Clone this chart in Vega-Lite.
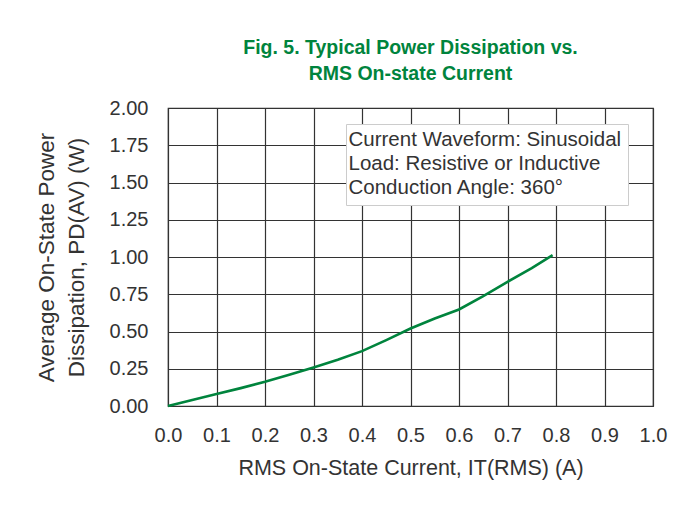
{
  "$schema": "https://vega.github.io/schema/vega-lite/v6.json",
  "width": 485,
  "height": 298,
  "autosize": {"type": "none"},
  "padding": {"left": 168, "top": 108, "right": 38, "bottom": 106},
  "background": "white",
  "title": {
    "text": ["Fig. 5. Typical Power Dissipation vs.", "RMS On-state Current"],
    "font": "Liberation Sans",
    "fontSize": 19.5,
    "fontWeight": "bold",
    "color": "#00843D",
    "anchor": "middle",
    "lineHeight": 26.6,
    "offset": 13
  },
  "config": {
    "view": {"stroke": "#333333", "strokeWidth": 1.2},
    "axis": {
      "labelFont": "Liberation Sans",
      "titleFont": "Liberation Sans",
      "labelColor": "#333333",
      "titleColor": "#333333",
      "labelFontSize": 20,
      "titleFontSize": 22.5,
      "titleFontWeight": "normal",
      "gridColor": "#333333",
      "gridOpacity": 1,
      "gridWidth": 1.2,
      "ticks": false,
      "domain": false,
      "labelFlush": false
    },
    "legend": {
      "labelFont": "Liberation Sans",
      "labelFontSize": 20.5
    }
  },
  "datasets": {
    "curve": [
      {"current": 0.0, "power": 0.0},
      {"current": 0.05, "power": 0.04},
      {"current": 0.1, "power": 0.08},
      {"current": 0.15, "power": 0.12},
      {"current": 0.2, "power": 0.163},
      {"current": 0.25, "power": 0.21},
      {"current": 0.3, "power": 0.259},
      {"current": 0.35, "power": 0.31},
      {"current": 0.4, "power": 0.368},
      {"current": 0.45, "power": 0.442},
      {"current": 0.5, "power": 0.52},
      {"current": 0.55, "power": 0.587},
      {"current": 0.6, "power": 0.648},
      {"current": 0.65, "power": 0.738},
      {"current": 0.7, "power": 0.833},
      {"current": 0.75, "power": 0.925},
      {"current": 0.793, "power": 1.012}
    ],
    "notes": [
      {"note": "Current Waveform: Sinusoidal"},
      {"note": "Load: Resistive or Inductive"},
      {"note": "Conduction Angle: 360°"}
    ]
  },
  "layer": [
    {
      "data": {"name": "curve"},
      "mark": {"type": "line", "color": "#00843D", "strokeWidth": 2.6},
      "encoding": {
        "x": {
          "field": "current",
          "type": "quantitative",
          "scale": {"domain": [0, 1], "nice": false},
          "axis": {
            "values": [0, 0.1, 0.2, 0.3, 0.4, 0.5, 0.6, 0.7, 0.8, 0.9, 1.0],
            "format": ".1f",
            "labelPadding": 19,
            "titlePadding": 12,
            "titleFontSize": 21.5,
            "title": "RMS On-State Current, IT(RMS) (A)"
          }
        },
        "y": {
          "field": "power",
          "type": "quantitative",
          "scale": {"domain": [0, 2], "nice": false},
          "axis": {
            "values": [0, 0.25, 0.5, 0.75, 1.0, 1.25, 1.5, 1.75, 2.0],
            "format": ".2f",
            "labelPadding": 20,
            "titlePadding": 21,
            "titleLineHeight": 30,
            "title": ["Average On-State Power", "Dissipation, PD(AV) (W)"]
          }
        }
      }
    },
    {
      "data": {"name": "notes"},
      "mark": {"type": "point", "opacity": 0},
      "encoding": {
        "shape": {
          "field": "note",
          "type": "nominal",
          "scale": {"domain": ["Current Waveform: Sinusoidal", "Load: Resistive or Inductive", "Conduction Angle: 360°"]},
          "legend": {
            "title": null,
            "orient": "none",
            "legendX": 178,
            "legendY": 16,
            "padding": 6,
            "strokeColor": "#cccccc",
            "fillColor": "white",
            "labelColor": "#333333",
            "labelLimit": 0,
            "labelOffset": -24,
            "symbolSize": 0,
            "symbolStrokeWidth": 0,
            "symbolOpacity": 0,
            "rowPadding": 3
          }
        }
      }
    }
  ]
}
